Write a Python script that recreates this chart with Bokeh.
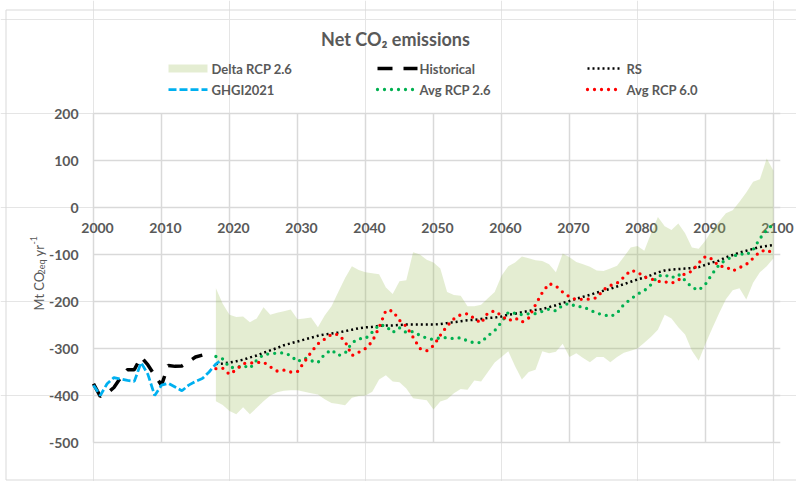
import math
from bokeh.plotting import figure
from bokeh.models import Range1d
from bokeh.core.properties import value
from bokeh.embed import file_html
from bokeh.resources import INLINE

# ---------------- data ----------------
years_hist = list(range(2000, 2017))
historical = [-375, -402, -395, -383, -362, -345, -345, -318, -335, -357,
              -378, -336, -338, -337, -328, -318, -314]

years_ghgi = list(range(2000, 2020))
ghgi2021 = [-378, -400, -375, -362, -365, -368, -370, -330, -355, -400,
            -378, -374, -382, -390, -378, -370, -364, -350, -333, -322]

years_proj = list(range(2018, 2101))
rs = [-333, -332, -330, -327, -324, -319, -315, -309, -304, -299,
      -293, -289, -285, -281, -277, -273, -270, -268, -266, -263,
      -260, -257, -255, -254, -252, -251, -251, -250, -249, -249,
      -249, -249, -249, -248, -246, -244, -242, -240, -239, -237,
      -235, -234, -232, -228, -226, -223, -220, -218, -216, -212,
      -208, -203, -199, -194, -190, -186, -181, -177, -173, -168,
      -163, -158, -153, -149, -144, -138, -134, -132, -131, -130,
      -129, -127, -122, -117, -113, -106, -101, -96, -92, -88,
      -84, -82, -80]
avg_rcp26 = [-317, -322, -340, -341, -336, -342, -325, -313, -311, -310,
             -309, -315, -328, -320, -326, -330, -312, -303, -315, -310,
             -288, -279, -279, -265, -250, -252, -266, -256, -266, -264,
             -272, -278, -281, -277, -277, -279, -277, -284, -288, -287,
             -273, -262, -244, -223, -225, -228, -226, -226, -221, -216,
             -220, -208, -204, -211, -211, -218, -225, -228, -232, -225,
             -206, -195, -184, -177, -164, -146, -143, -150, -142, -155,
             -170, -176, -163, -141, -122, -111, -105, -98, -101, -90,
             -66, -48, -35]
avg_rcp60 = [-343, -342, -355, -345, -332, -331, -330, -329, -339, -348,
             -346, -350, -349, -329, -308, -290, -280, -270, -270, -285,
             -315, -308, -300, -285, -255, -219, -220, -240, -253, -276,
             -300, -305, -294, -272, -252, -237, -228, -226, -236, -246,
             -224, -220, -230, -241, -235, -244, -235, -207, -181, -162,
             -167, -180, -190, -196, -195, -195, -192, -175, -166, -161,
             -148, -134, -137, -148, -152, -157, -158, -161, -155, -140,
             -136, -118, -104, -110, -125, -126, -135, -128, -121, -108,
             -94, -90, -98]
delta_upper = [-172, -205, -228, -233, -232, -244, -236, -212, -228, -224,
               -221, -217, -238, -236, -234, -255, -230, -210, -180, -150,
               -125, -133, -138, -140, -142, -170, -184, -157, -155, -95,
               -100, -111, -117, -130, -180, -186, -188, -210, -210, -207,
               -193, -180, -145, -125, -117, -104, -108, -112, -114, -121,
               -138, -98, -106, -116, -121, -126, -134, -135, -130, -124,
               -105, -85, -82, -92, -55, -20, -40, -48, -34, -55,
               -85, -88, -70, -47, -30, -12, -6, 12, 32, 55,
               60, 104, 78]
delta_lower = [-412, -420, -433, -440, -425, -440, -426, -412, -400, -393,
               -390, -389, -389, -392, -395, -398, -408, -416, -418, -421,
               -405, -401, -400, -392, -366, -357, -370, -372, -385, -406,
               -408, -410, -430, -413, -408, -395, -386, -388, -368, -370,
               -350, -330, -318, -306, -338, -366, -350, -345, -306, -310,
               -307, -290, -318, -310, -320, -329, -318, -318, -329, -318,
               -309, -305, -300, -288, -275, -260, -228, -236, -255, -270,
               -305, -326, -290, -257, -225, -195, -176, -172, -196, -160,
               -138, -125, -108]

x_ticks = [2000, 2010, 2020, 2030, 2040, 2050, 2060, 2070, 2080, 2090, 2100]
x_tick_labels = [str(t) for t in x_ticks]
y_ticks = [-500, -400, -300, -200, -100, 0, 100, 200]
y_tick_labels = [str(t) for t in y_ticks]

title_text = "Net CO\u2082 emissions"
legend_labels = ["Delta RCP 2.6", "Historical", "RS", "GHGI2021", "Avg RCP 2.6", "Avg RCP 6.0"]

# ---------------- layout / styles ----------------
FONT = "Lato"
GRAY = "#595959"
GRID = "#d9d9d9"
W, H = 796, 481
X0_PX, PX_PER_YEAR = 93.0, 6.8     # pixel of year 2000, pixels per year
Y0_PX, PX_PER_UNIT = 207.0, 0.47   # pixel of value 0, pixels per Mt

BAND = dict(fill_color="#9bbb59", fill_alpha=0.27)
HIST = dict(line_color="#000000", line_width=3.5, line_dash="15 11")
GHGI = dict(line_color="#00b0f0", line_width=2.75, line_dash="8 3")
RS = dict(line_color="#000000", line_width=2.5, line_dash="2 3")
A26 = dict(line_color="#00b050", line_width=3.3, line_dash="0 7", line_cap="round")
A60 = dict(line_color="#ff0000", line_width=3.3, line_dash="0 7", line_cap="round")

x_range = Range1d(x_ticks[0] - X0_PX / PX_PER_YEAR, x_ticks[0] + (W - X0_PX) / PX_PER_YEAR)
y_range = Range1d(-(H - Y0_PX) / PX_PER_UNIT, Y0_PX / PX_PER_UNIT)

p = figure(width=W, height=H, x_range=x_range, y_range=y_range,
           x_axis_location=None, y_axis_location=None,
           toolbar_location=None, output_backend="svg", min_border=0,
           outline_line_color=None)
p.extra_x_ranges = {"px": Range1d(0, W)}
p.extra_y_ranges = {"px": Range1d(H, 0)}
PX = dict(x_range_name="px", y_range_name="px")

# chart border
p.multi_line(xs=[[5.5, 5.5], [5.5, W], [5.5, W]],
             ys=[[9.5, 479.5], [9.5, 9.5], [479.5, 479.5]],
             line_color=GRID, line_width=1, **PX)

# grid lines (plot area only)
x_lo, x_hi = x_ticks[0], x_ticks[-1] + 1
y_lo, y_hi = y_ticks[0], y_ticks[-1]
p.segment(x0=[x_lo] * len(y_ticks), x1=[x_hi] * len(y_ticks), y0=y_ticks, y1=y_ticks,
          line_color=GRID, line_width=1.5)
p.segment(x0=x_ticks, x1=x_ticks, y0=[y_lo] * len(x_ticks), y1=[y_hi] * len(x_ticks),
          line_color=GRID, line_width=1.5)

# tick labels
p.text(x=[x_lo] * len(y_ticks), y=y_ticks, text=y_tick_labels, x_offset=-15,
       text_align="right", text_baseline="middle", text_font=value(FONT),
       text_font_size="14px", text_font_style="bold", text_color=GRAY)
p.text(x=x_ticks, y=[0] * len(x_ticks), text=x_tick_labels, x_offset=4, y_offset=20,
       text_align="center", text_baseline="middle", text_font=value(FONT),
       text_font_size="14px", text_font_style="bold", text_color=GRAY)

# series
p.varea(x=years_proj, y1=delta_lower, y2=delta_upper, **BAND)
p.line(years_hist, historical, **HIST)
p.line(years_proj, rs, **RS)
p.line(years_ghgi, ghgi2021, **GHGI)
p.line(years_proj, avg_rcp26, **A26)
p.line(years_proj, avg_rcp60, **A60)

# title
p.text(x=[395], y=[38], text=[title_text], text_align="center", text_baseline="middle",
       text_font=value(FONT), text_font_size="18px", text_font_style="bold",
       text_color=GRAY, **PX)

# legend
row_y = [68, 89]
col_sw = [(168, 207), (377, 417), (587, 622)]
col_tx = [211, 419, 626]
styles = [BAND, HIST, RS, GHGI, A26, A60]
for i, (lab, st) in enumerate(zip(legend_labels, styles)):
    r, c = divmod(i, 3)
    y = row_y[r]
    x0, x1 = col_sw[c]
    if "fill_color" in st:
        p.quad(left=[x0], right=[x1], top=[y - 4], bottom=[y + 4], line_color=None, **st, **PX)
    else:
        p.line([x0, x1], [y, y], **st, **PX)
    p.text(x=[col_tx[c]], y=[y], text=[lab], text_align="left", text_baseline="middle",
           text_font=value(FONT), text_font_size="13px", text_font_style="bold",
           text_color=GRAY, **PX)

# y-axis title with subscript / superscript
ylab_parts = [("Mt CO", "13px", 38, 310),
              ("2eq", "9px", 41, 274),
              ("yr", "13px", 38, 256),
              ("-1", "9px", 33, 244)]
for txt, size, xs, ys in ylab_parts:
    p.text(x=[xs], y=[ys], text=[txt], angle=math.pi / 2, text_align="left",
           text_baseline="alphabetic", text_font=value(FONT), text_font_size=size,
           text_color=GRAY, **PX)

open("out.html", "w").write(file_html(p, INLINE))
